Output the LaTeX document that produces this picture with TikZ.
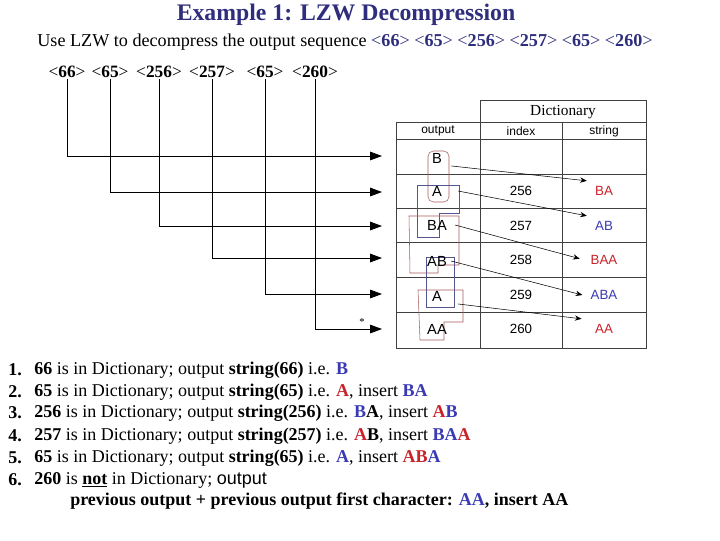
\documentclass[tikz,border=0pt]{standalone}
\usepackage{fontspec}
\setmainfont{Liberation Serif}
\setsansfont{Liberation Sans}
\definecolor{TitleNavy}{HTML}{2E2E7C}
\definecolor{LzwRed}{HTML}{C8222A}
\definecolor{LzwBlue}{HTML}{3A3AB4}
\definecolor{OutRed}{HTML}{A45A5A}
\definecolor{OutBlue}{HTML}{55558E}
\newcommand{\redtxt}[1]{\textcolor{LzwRed}{#1}}
\newcommand{\bluetxt}[1]{\textcolor{LzwBlue}{#1}}
\usetikzlibrary{arrows.meta,positioning}

\begin{document}
\begin{tikzpicture}[x=0.75pt,y=-0.75pt,
    code/.style={inner sep=1pt,font=\fontsize{13}{15}\selectfont},
    cell/.style={inner sep=2pt,font=\sffamily\fontsize{10}{12}\selectfont},
    head/.style={inner sep=1pt,font=\sffamily\fontsize{9}{11}\selectfont},
    item/.style={anchor=west,inner sep=0pt,font=\fontsize{13.5}{16}\selectfont},
    feed/.style={-{Triangle[length=9pt,width=6.5pt]},semithick},
    link/.style={-{Stealth[length=5pt,width=4pt]},thin},
    grid/.style={draw=black!75,thin}]
  \useasboundingbox (0,0) rectangle (720,540);

  % title and question
  \node[font=\bfseries\fontsize{17.8}{21}\selectfont,text=TitleNavy] (title) at (346,15) {Example 1: LZW Decompression};
  \node[font=\fontsize{13.6}{16}\selectfont] (task) at (345,42) {Use LZW to decompress the output sequence
    \textcolor{TitleNavy}{\textless\textbf{66}\textgreater{} \textless\textbf{65}\textgreater{} \textless\textbf{256}\textgreater{} \textless\textbf{257}\textgreater{} \textless\textbf{65}\textgreater{} \textless\textbf{260}\textgreater}};

  % received codes
  \foreach \n/\x/\t in {c1/67/66,c2/110/65,c3/159/256,c4/212/257,c5/265/65,c6/315/260}
    \node[code] (\n) at (\x,72) {\textless\textbf{\t}\textgreater};
  \foreach \n/\y in {r1/156,r2/192,r3/226,r4/258,r5/294,r6/329}
    \coordinate (\n) at (382,\y);
  \foreach \x/\y in {c1/r1,c2/r2,c3/r3,c4/r4,c5/r5,c6/r6}
    \draw[feed] (\x.south) |- (\y);
  \node[inner sep=0pt,font=\footnotesize] (star) at (362,322) {*};

  % dictionary table
  \draw[grid] (480,100) rectangle (646,122);
  \draw[grid,semithick] (396,122) rectangle (646,348);
  \foreach \y in {139,174,208,242,277,312}
    \draw[grid] (396,\y) -- (646,\y);
  \foreach \x in {480,562}
    \draw[grid,semithick] (\x,122) -- (\x,348);
  \node[inner sep=1pt,font=\fontsize{11.5}{13}\selectfont] (dict) at (563,112) {Dictionary};
  \node[head] (hout) at (438,131) {output};
  \node[head] (hidx) at (521,131) {index};
  \node[head] (hstr) at (604,131) {string};

  % output column with its groupings
  \draw[OutRed,rounded corners=4pt] (428,151) rectangle (449,202);
  \draw[OutBlue] (417,185) -- (459,185) -- (459,213) -- (439,213) -- (439,237) -- (417,237) -- cycle;
  \draw[OutRed] (409,216) -- (459,216) -- (459,265) -- (438,265) -- (438,273) -- (410,273) -- cycle;
  \draw[OutBlue] (426,257) rectangle (454,307);
  \draw[OutRed] (418,290) -- (463,290) -- (463,322) -- (444,322) -- (444,340) -- (420,340) -- cycle;
  \foreach \n/\y/\t in {o1/158/B,o2/191/A,o3/225/BA,o4/261/AB,o5/296/A,o6/329/AA}
    \node[cell,font=\sffamily\fontsize{11}{13}\selectfont] (\n) at (437,\y) {\t};

  % index and string columns
  \foreach \n/\y/\t in {i2/191/256,i3/226/257,i4/260/258,i5/295/259,i6/329/260}
    \node[cell] (\n) at (521,\y) {\t};
  \node[cell,text=LzwRed] (s2) at (604,191) {BA};
  \node[cell,text=LzwBlue] (s3) at (604,226) {AB};
  \node[cell,text=LzwRed] (s4) at (604,260) {BAA};
  \node[cell,text=LzwBlue] (s5) at (604,295) {ABA};
  \node[cell,text=LzwRed] (s6) at (604,329) {AA};
  \draw[link] ([xshift=5pt]o1.south east) -- ([xshift=-4pt,yshift=2pt]s2.north west);
  \draw[link] ([xshift=10pt]o2.east) -- ([xshift=-4pt,yshift=2pt]s3.north west);
  \draw[link] ([xshift=4pt]o3.east) -- ([xshift=-6pt,yshift=1pt]s4.west);
  \draw[link] ([xshift=1pt]o4.east) -- ([xshift=-4pt]s5.west);
  \draw[link] ([xshift=10pt]o5.south east) -- ([xshift=-8pt,yshift=2pt]s6.north west);

  % steps
  \foreach \n/\y in {1/370,2/392,3/413,4/436,5/458,6/480}
    \node[item,font=\bfseries\fontsize{13.5}{16}\selectfont] (n\n) at (8,\y) {\n.};
  \node[item] (l1) at (34,370) {\textbf{66} is in Dictionary; output \textbf{string(66)} i.e. \textbf{\bluetxt{B}}};
  \node[item] (l2) at (34,392) {\textbf{65} is in Dictionary; output \textbf{string(65)} i.e. \textbf{\redtxt{A}}, insert \textbf{\bluetxt{BA}}};
  \node[item] (l3) at (34,413) {\textbf{256} is in Dictionary; output \textbf{string(256)} i.e. \textbf{\bluetxt{B}A}, insert \textbf{\redtxt{A}\bluetxt{B}}};
  \node[item] (l4) at (34,436) {\textbf{257} is in Dictionary; output \textbf{string(257)} i.e. \textbf{\redtxt{A}B}, insert \textbf{\bluetxt{BA}\redtxt{A}}};
  \node[item] (l5) at (34,458) {\textbf{65} is in Dictionary; output \textbf{string(65)} i.e. \textbf{\bluetxt{A}}, insert \textbf{\redtxt{AB}\bluetxt{A}}};
  \node[item] (l6) at (34,480) {\textbf{260} is \textbf{\underline{not}} in Dictionary; {\sffamily output}};
  \node[item] (l7) at (70,501) {\textbf{previous output + previous output first character: \bluetxt{AA}, insert AA}};
\end{tikzpicture}
\end{document}
